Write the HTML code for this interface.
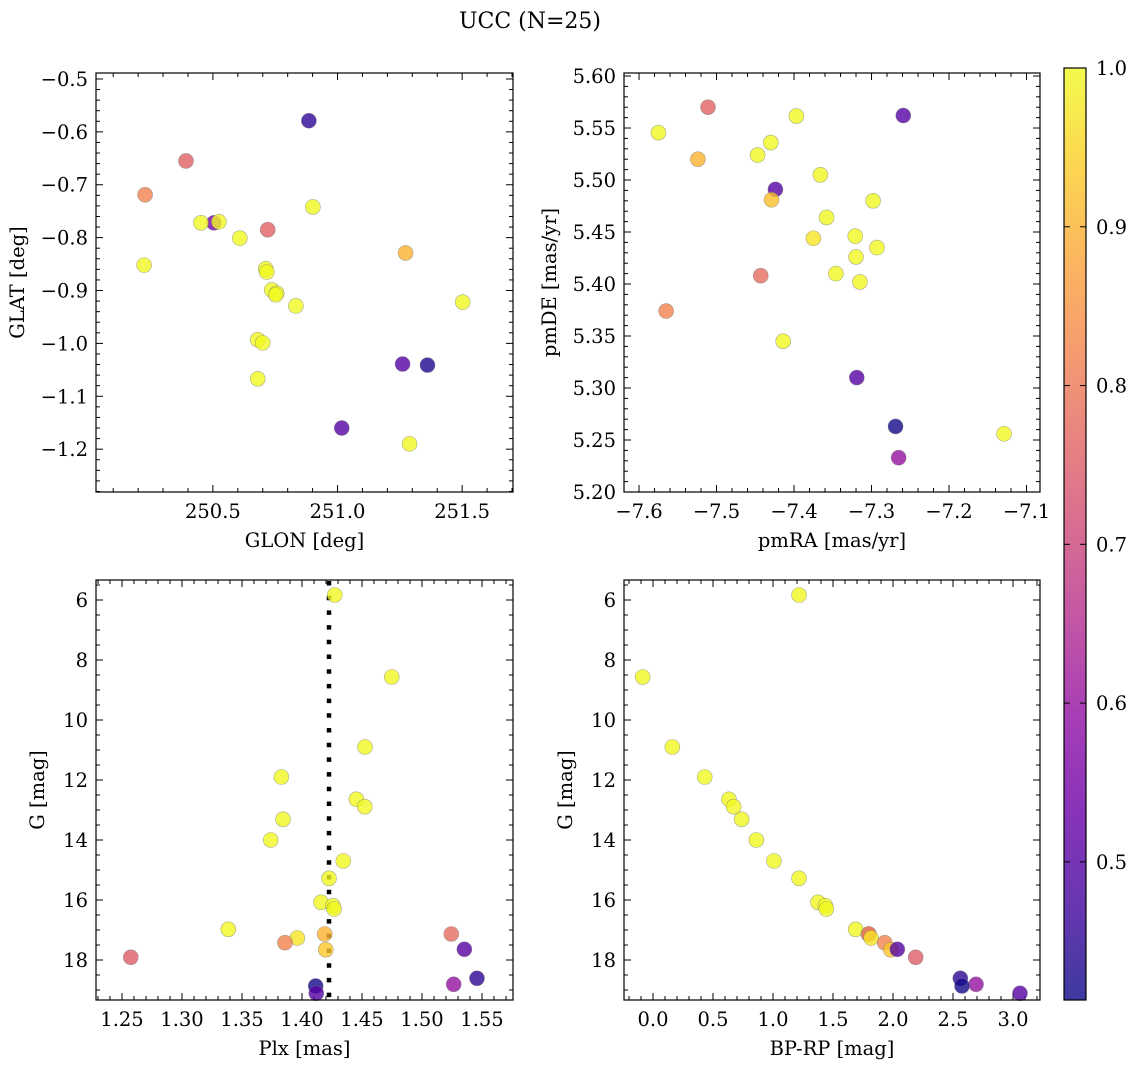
<!DOCTYPE html>
<html><head><meta charset="utf-8"><style>
html,body{margin:0;padding:0;background:#fff;}
svg{display:block;font-family:"DejaVu Serif","Liberation Serif",serif;}
</style></head><body>
<svg id="fig" width="1136" height="1068" viewBox="0 0 1136 1068">
<defs><linearGradient id="plasma" x1="0" y1="1" x2="0" y2="0"></linearGradient></defs>
<text x="530" y="28" font-size="22" text-anchor="middle">UCC (N=25)</text>
</svg>
<script>
// ---- data ----
const glon = [250.885,250.392,250.228,250.504,250.452,250.524,250.901,250.608,250.720,250.224,250.712,250.716,250.736,250.756,250.752,250.833,251.273,251.502,250.680,250.700,250.680,251.261,251.361,251.017,251.289];
const glat = [-0.579,-0.655,-0.719,-0.772,-0.772,-0.770,-0.742,-0.801,-0.785,-0.852,-0.859,-0.865,-0.899,-0.905,-0.908,-0.929,-0.829,-0.922,-0.993,-0.999,-1.067,-1.039,-1.041,-1.160,-1.190];
const probA = [0.45,0.76,0.82,0.55,1.0,1.0,1.0,1.0,0.76,1.0,1.0,1.0,1.0,1.0,1.0,1.0,0.9,1.0,1.0,1.0,1.0,0.5,0.43,0.5,1.0];
const pmra = [-7.575,-7.511,-7.524,-7.397,-7.259,-7.430,-7.447,-7.366,-7.424,-7.429,-7.298,-7.358,-7.375,-7.321,-7.293,-7.320,-7.346,-7.315,-7.443,-7.565,-7.414,-7.319,-7.269,-7.129,-7.265];
const pmde = [5.5455,5.570,5.520,5.5615,5.562,5.536,5.524,5.505,5.491,5.481,5.480,5.464,5.444,5.446,5.435,5.426,5.410,5.402,5.408,5.374,5.345,5.310,5.263,5.256,5.233];
const probB = [1.0,0.76,0.9,1.0,0.5,1.0,1.0,1.0,0.5,0.92,1.0,1.0,0.97,1.0,1.0,1.0,1.0,1.0,0.78,0.82,1.0,0.5,0.42,1.0,0.6];
const plx = [1.4273,1.4748,1.4525,1.3828,1.4453,1.4523,1.3842,1.3739,1.4344,1.4225,1.4158,1.4258,1.4267,1.3386,1.4189,1.5244,1.3961,1.3858,1.4198,1.5353,1.2573,1.5458,1.5264,1.4114,1.4119];
const gmag = [5.833,8.567,10.9,11.9,12.643,12.89,13.31,14.0,14.7,15.277,16.077,16.19,16.3,16.977,17.133,17.133,17.267,17.423,17.657,17.643,17.91,18.61,18.81,18.867,19.11];
const bprp = [1.217,-0.086,0.161,0.431,0.633,0.672,0.739,0.861,1.008,1.217,1.375,1.436,1.444,1.689,1.794,1.80,1.817,1.931,1.981,2.036,2.189,2.561,2.692,2.575,3.058];
const probC = [1.0,1.0,1.0,1.0,1.0,1.0,1.0,1.0,1.0,1.0,1.0,1.0,1.0,1.0,0.9,0.78,0.97,0.82,0.93,0.5,0.75,0.45,0.6,0.42,0.5];
const plxMedian = [1.4225];
const cbTicks = [0.5,0.6,0.7,0.8,0.9,1.0];
const cmin = 0.413, cmax = 1.0;

const NS = "http://www.w3.org/2000/svg";
const svg = document.getElementById('fig');
const FS = 19.5;
function mk(tag, attrs, parent){const e=document.createElementNS(NS,tag);for(const k in attrs)e.setAttribute(k,attrs[k]);(parent||svg).appendChild(e);return e;}

const stops=["#0d0887","#41049d","#6a00a8","#8f0da4","#b12a90","#cc4778","#e16462","#f2844b","#fca636","#fcce25","#f0f921"];
function hex(h){return [parseInt(h.substr(1,2),16),parseInt(h.substr(3,2),16),parseInt(h.substr(5,2),16)];}
function plasma(v){let t=(v-cmin)/(cmax-cmin);t=Math.max(0,Math.min(1,t));const f=t*10,i=Math.min(9,Math.floor(f)),r=f-i;const a=hex(stops[i]),b=hex(stops[i+1]);return `rgb(${a.map((c,k)=>Math.round(c+(b[k]-c)*r)).join(',')})`;}

function fmt(v,d){return (v<0?"\u2212":"")+Math.abs(v).toFixed(d);}

function panel(o){
  const g=mk('g',{});
  
  
  const X=v=>o.x0+(v-o.xmin)/(o.xmax-o.xmin)*(o.x1-o.x0);
  const Y=o.yinv?(v=>o.y0+(v-o.ymin)/(o.ymax-o.ymin)*(o.y1-o.y0)):(v=>o.y1-(v-o.ymin)/(o.ymax-o.ymin)*(o.y1-o.y0));
  const tg=mk('g',{stroke:'#000','stroke-width':1},g);
  for(let v=Math.ceil(o.xmin/o.xminor-1e-6)*o.xminor;v<=o.xmax+1e-9;v+=o.xminor){
    const px=X(v);const maj=Math.abs(v/o.xmajor-Math.round(v/o.xmajor))<1e-6;const L=maj?7:4;
    mk('line',{x1:px,y1:o.y1,x2:px,y2:o.y1-L},tg);mk('line',{x1:px,y1:o.y0,x2:px,y2:o.y0+L},tg);
    if(maj){const t=mk('text',{x:px,y:o.y1+26,'font-size':FS,'text-anchor':'middle',stroke:'none'},g);t.textContent=fmt(v,o.xd);
      
      }
  }
  for(let v=Math.ceil(o.ymin/o.yminor-1e-6)*o.yminor;v<=o.ymax+1e-9;v+=o.yminor){
    const py=Y(v);const maj=Math.abs(v/o.ymajor-Math.round(v/o.ymajor))<1e-6;const L=maj?7:4;
    mk('line',{x1:o.x0,y1:py,x2:o.x0+L,y2:py},tg);mk('line',{x1:o.x1,y1:py,x2:o.x1-L,y2:py},tg);
    if(maj){const t=mk('text',{x:o.x0-8,y:py+7,'font-size':FS,'text-anchor':'end'},g);t.textContent=fmt(v,o.yd);
      
      }
  }
  if(o.vline){const px=X(o.vline[0]);const l=mk('line',{x1:px,y1:o.y0+1,x2:px,y2:o.y1,stroke:'#000','stroke-width':4.5,'stroke-dasharray':'4.5 10.2'},g);
    
    }
  const pg=mk('g',{},g);
  for(let i=0;i<o.xs.length;i++){
    const c=mk('circle',{cx:X(o.xs[i]),cy:Y(o.ys[i]),r:7.5,fill:plasma(o.cs[i]),'fill-opacity':0.8,stroke:'#777','stroke-opacity':0.6,'stroke-width':0.6},pg);
    
    
  }
  const fr=mk('rect',{x:o.x0,y:o.y0,width:o.x1-o.x0,height:o.y1-o.y0,fill:'none',stroke:'#000','stroke-width':1.2},g);
  
  
  const xl=mk('text',{x:(o.x0+o.x1)/2,y:o.y1+55,'font-size':FS,'text-anchor':'middle'},g);xl.textContent=o.xlabel;
  
  
  const yx=o.ylx,yy=(o.y0+o.y1)/2;
  const yl=mk('text',{x:yx,y:yy,'font-size':FS,'text-anchor':'middle',transform:`rotate(-90 ${yx} ${yy})`},g);yl.textContent=o.ylabel;
  
  
}

panel({name:'glon-glat-panel',x0:96,x1:513,y0:73,y1:492,xmin:250.031,xmax:251.704,ymin:-1.281,ymax:-0.4887,xmajor:0.5,xminor:0.1,ymajor:0.1,yminor:0.02,xd:1,yd:1,xs:glon,ys:glat,cs:probA,xlabel:'GLON [deg]',ylabel:'GLAT [deg]',ylx:24});
panel({name:'pm-panel',x0:624,x1:1040,y0:73,y1:492,xmin:-7.6194,xmax:-7.0826,ymin:5.20,ymax:5.6029,xmajor:0.1,xminor:0.02,ymajor:0.05,yminor:0.01,xd:1,yd:2,xs:pmra,ys:pmde,cs:probB,xlabel:'pmRA [mas/yr]',ylabel:'pmDE [mas/yr]',ylx:556});
panel({name:'plx-g-panel',x0:96,x1:513,y0:580,y1:1000,xmin:1.22833,xmax:1.57583,ymin:5.3333,ymax:19.3333,yinv:true,xmajor:0.05,xminor:0.01,ymajor:2,yminor:0.5,xd:2,yd:0,xs:plx,ys:gmag,cs:probC,xlabel:'Plx [mas]',ylabel:'G [mag]',ylx:44,vline:plxMedian});
panel({name:'cmd-panel',x0:624,x1:1040,y0:580,y1:1000,xmin:-0.2417,xmax:3.225,ymin:5.3333,ymax:19.3333,yinv:true,xmajor:0.5,xminor:0.1,ymajor:2,yminor:0.5,xd:1,yd:0,xs:bprp,ys:gmag,cs:probC,xlabel:'BP-RP [mag]',ylabel:'G [mag]',ylx:572});

const grad=document.getElementById('plasma');
stops.forEach((s,i)=>mk('stop',{offset:(i/10),'stop-color':s,'stop-opacity':0.8},grad));
const cbx0=1064,cbx1=1086,cby0=68,cby1=1000;
const CY=v=>cby1-(v-cmin)/(cmax-cmin)*(cby1-cby0);
const cb=mk('rect',{x:cbx0,y:cby0,width:cbx1-cbx0,height:cby1-cby0,fill:'url(#plasma)',stroke:'#000','stroke-width':1.2});


cbTicks.forEach(v=>{const py=CY(v);mk('line',{x1:cbx1,y1:py,x2:cbx1-6,y2:py,stroke:'#000','stroke-width':1});mk('line',{x1:cbx0,y1:py,x2:cbx0+6,y2:py,stroke:'#000','stroke-width':1});
  const t=mk('text',{x:cbx1+10,y:py+7,'font-size':FS});t.textContent=v.toFixed(1);
  
  });
</script>
</body></html>
